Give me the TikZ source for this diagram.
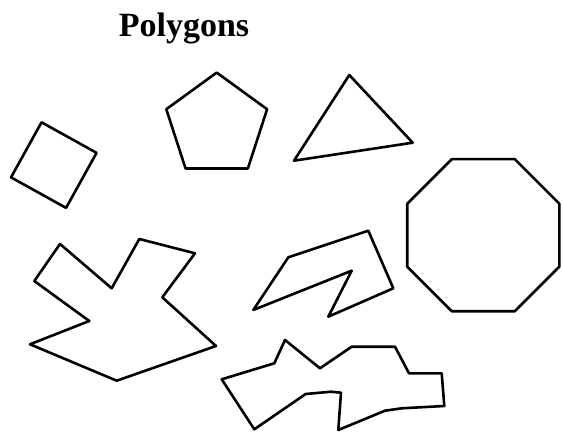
\documentclass[tikz,border=0pt]{standalone}
\usepackage{fontspec}
\setmainfont{Liberation Serif}
\usetikzlibrary{calc}
\begin{document}
\begin{tikzpicture}[x=1pt, y=-1pt, line width=2.6pt, line join=round, line cap=round]
				\useasboundingbox (0,0) rectangle (563,433);
				\node[font=\bfseries\fontsize{34}{40}\selectfont, anchor=base] (title) at (184,37) {Polygons};
				
				% square
				\foreach \i in {1,...,4} {
					\coordinate (S\i) at ($(53.8,165.1)+({254+(\i-1)*90}:44.5)$);
				}
				\draw (S1) -- (S2) -- (S3) -- (S4) -- cycle;
				
				% pentagon
				\def\R{53}
				\foreach \i in {1,...,5} {
					\coordinate (P\i) at ($(216.7,125.6)+({-90+(\i-1)*72}:\R)$);
				}
				\draw (P1) -- (P2) -- (P3) -- (P4) -- (P5) -- cycle;
				
				% triangle
				\draw (349.3,75) -- (412.7,142.7) -- (294,160.7) -- cycle;
				
				% octagon
				\def\R{82.3}
				\foreach \i in {1,...,8} {
					\coordinate (O\i) at ($(483.3,235.2)+({22.5+(\i-1)*45}:\R)$);
				}
				\draw (O1) -- (O2) -- (O3) -- (O4) -- (O5) -- (O6) -- (O7) -- (O8) -- cycle;
				
				% star
				\draw (60,244) -- (111.7,288.3) -- (139.3,239) -- (195,253.3) -- (162.3,297.3)
					-- (216,346) -- (116.7,380.7) -- (30,344.3) -- (89.3,321) -- (34.3,281) -- cycle;
				
				% zigzag
				\draw (253.3,310) -- (288.3,257.3) -- (368.3,230.7) -- (393.3,288.3)
					-- (328.3,316.7) -- (351.7,270.7) -- cycle;
				
				% bottom shape
				\draw (221.7,379.3) -- (274.3,363.3) -- (285,340) -- (320,368.3) -- (351.7,346.7)
					-- (395,346.7) -- (409,373.3) -- (441.7,373.3) -- (444.3,406) -- (401.7,408.3)
					-- (385,410.7) -- (338.3,430) -- (341,392.7) -- (331,391.7) -- (305.7,394)
					-- (254.3,429.3) -- cycle;
			\end{tikzpicture}
\end{document}
